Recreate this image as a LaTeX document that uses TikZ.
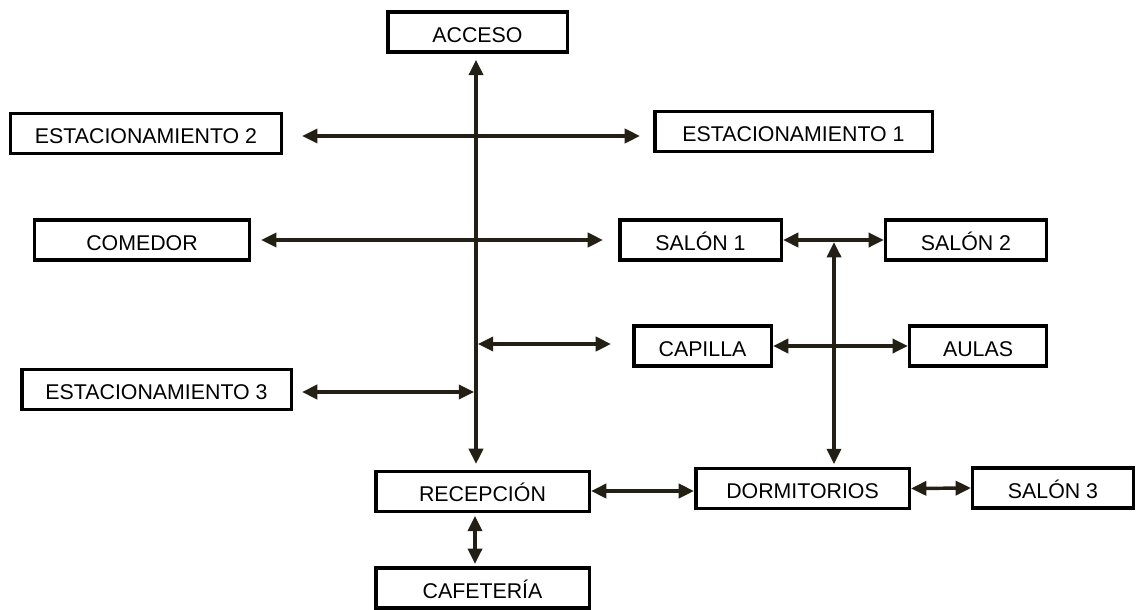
\documentclass[tikz,border=0pt]{standalone}
\usepackage{fontspec}
\setmainfont{Liberation Sans}
\usetikzlibrary{arrows.meta}
\definecolor{lc}{RGB}{35,31,20}
\begin{document}
\begin{tikzpicture}[x=0.75pt,y=-0.75pt,
  box/.style={draw=black,line width=2.6pt,inner sep=0pt,minimum height=30pt,
    font=\fontsize{16pt}{19pt}\selectfont,text height=15.2pt,text depth=0pt},
  arr/.style={draw=lc,line width=2.6pt,
    {Triangle[length=11.5pt,width=10.5pt]}-{Triangle[length=11.5pt,width=10.5pt]}}]
\useasboundingbox (0,0) rectangle (1143,610);
\node[box,minimum width=134.6pt] (acceso)  at (477.5,32)  {ACCESO};
\node[box,minimum width=202.9pt] (est2)    at (146,133.5) {ESTACIONAMIENTO 2};
\node[box,minimum width=208.1pt] (est1)    at (793.5,131.5) {ESTACIONAMIENTO 1};
\node[box,minimum width=160.9pt] (comedor) at (142,240)   {COMEDOR};
\node[box,minimum width=121.1pt] (salon1)  at (700.5,240) {SALÓN 1};
\node[box,minimum width=120.4pt] (salon2)  at (966,240)   {SALÓN 2};
\node[box,minimum width=103.1pt] (capilla) at (702.5,346) {CAPILLA};
\node[box,minimum width=102.4pt] (aulas)   at (978,346)   {AULAS};
\node[box,minimum width=202.1pt] (est3)    at (156.5,389.5) {ESTACIONAMIENTO 3};
\node[box,minimum width=160.1pt] (recep)   at (482.5,491.5) {RECEPCIÓN};
\node[box,minimum width=160.1pt] (dorm)    at (802.5,488.5) {DORMITORIOS};
\node[box,minimum width=120.4pt] (salon3)  at (1053,488)  {SALÓN 3};
\node[box,minimum width=160.1pt] (cafe)    at (482.5,588) {CAFETERÍA};

\coordinate (sp) at (476,0);
\coordinate (r1) at (0,136);
\coordinate (dv) at (834,242);
\coordinate (c1) at (477.8,344);
\coordinate (e3) at (474.2,392);
\coordinate (r5) at (0,491);
\coordinate (cx) at (475,0);

\draw[arr,shorten <=4.5pt,shorten >=4.3pt] (acceso.south -| sp) -- (recep.north -| sp);
\draw[arr,shorten <=14.25pt,shorten >=9.75pt] (est2.east |- r1) -- (est1.west |- r1);
\draw[arr,shorten <=7.5pt,shorten >=11.25pt] (comedor.east) -- (salon1.west);
\draw[arr] (salon1.east) -- (salon2.west);
\draw[arr,shorten >=2pt] (dv) -- (dorm.north -| dv);
\draw[arr,shorten >=15.75pt] (c1) -- (capilla.west |- c1);
\draw[arr] (capilla.east) -- (aulas.west);
\draw[arr,shorten <=6.75pt] (est3.east |- e3) -- (e3);
\draw[arr] (recep.east |- r5) -- (dorm.west |- r5);
\draw[arr] (dorm.east) -- (salon3.west);
\draw[arr,shorten <=2pt,shorten >=1.7pt] (recep.south -| cx) -- (cafe.north -| cx);
\end{tikzpicture}
\end{document}
